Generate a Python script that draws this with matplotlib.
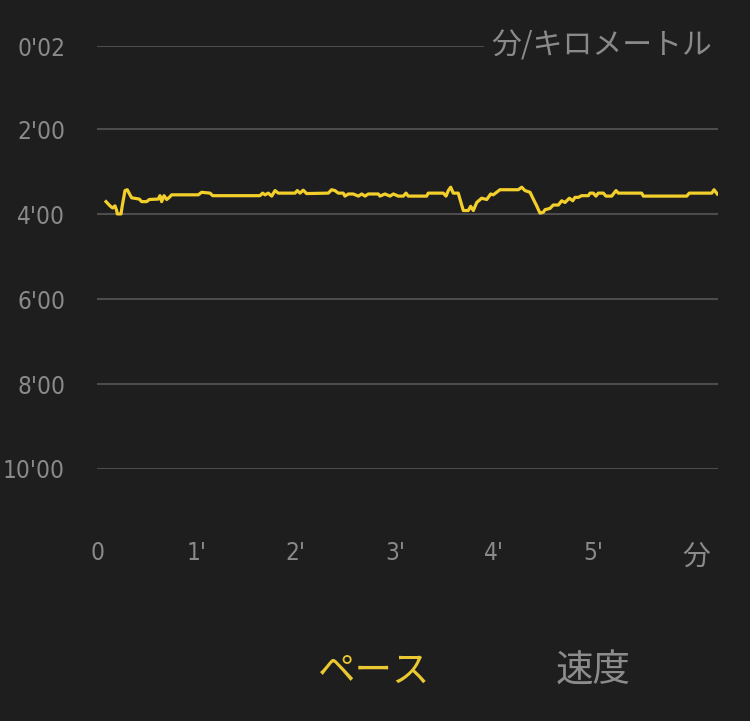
import matplotlib
matplotlib.use("Agg")
import matplotlib.pyplot as plt
from matplotlib import font_manager

# pace trace: elapsed time (min) vs pace (min/km)
elapsed_min = [
    0.091, 0.131, 0.158, 0.181, 0.198, 0.204, 0.242, 0.252, 0.282, 0.305,
    0.332, 0.349, 0.426, 0.450, 0.500, 0.527, 0.617, 0.634, 0.651, 0.675,
    0.702, 0.728, 0.752, 1.020, 1.054, 1.138, 1.165, 1.641, 1.668, 1.692,
    1.725, 1.759, 1.793, 1.826, 1.994, 2.017, 2.044, 2.077, 2.111, 2.329,
    2.363, 2.396, 2.430, 2.480, 2.497, 2.531, 2.581, 2.632, 2.666, 2.699,
    2.732, 2.833, 2.850, 2.900, 2.951, 2.984, 3.034, 3.085, 3.112, 3.135,
    3.320, 3.336, 3.487, 3.515, 3.538, 3.562, 3.588, 3.638, 3.689, 3.739,
    3.763, 3.790, 3.824, 3.874, 3.925, 3.965, 3.991, 4.058, 4.243, 4.277,
    4.310, 4.361, 4.394, 4.428, 4.461, 4.495, 4.512, 4.562, 4.595, 4.646,
    4.680, 4.713, 4.757, 4.791, 4.814, 4.847, 4.881, 4.948, 4.965, 4.998,
    5.025, 5.048, 5.099, 5.126, 5.183, 5.227, 5.250, 5.485, 5.502, 5.939,
    5.965, 6.191, 6.214, 6.247,
]
pace = [
    3.70, 3.80, 3.85, 3.80, 3.91, 3.99, 3.99, 3.83, 3.44, 3.42,
    3.54, 3.61, 3.64, 3.70, 3.70, 3.65, 3.64, 3.56, 3.70, 3.56,
    3.65, 3.60, 3.54, 3.54, 3.48, 3.50, 3.56, 3.56, 3.50, 3.54,
    3.50, 3.57, 3.44, 3.50, 3.50, 3.44, 3.50, 3.43, 3.51, 3.50,
    3.42, 3.44, 3.50, 3.50, 3.57, 3.52, 3.52, 3.57, 3.52, 3.57,
    3.52, 3.52, 3.57, 3.52, 3.57, 3.52, 3.57, 3.57, 3.50, 3.57,
    3.57, 3.50, 3.50, 3.57, 3.44, 3.36, 3.50, 3.50, 3.91, 3.91,
    3.81, 3.91, 3.72, 3.62, 3.65, 3.52, 3.54, 3.42, 3.42, 3.36,
    3.44, 3.48, 3.64, 3.80, 3.97, 3.95, 3.89, 3.86, 3.78, 3.78,
    3.68, 3.72, 3.62, 3.68, 3.60, 3.60, 3.56, 3.56, 3.50, 3.50,
    3.57, 3.50, 3.50, 3.57, 3.57, 3.44, 3.50, 3.50, 3.57, 3.57,
    3.50, 3.50, 3.42, 3.52,
]

y_ticks = [2 / 60, 2, 4, 6, 8, 10]
y_labels = ["0'02", "2'00", "4'00", "6'00", "8'00", "10'00"]
x_ticks = [0, 1, 2, 3, 4, 5, 6.04]
x_labels = ["0", "1'", "2'", "3'", "4'", "5'", "分"]
unit_label = "分/キロメートル"
tab_labels = ["ペース", "速度"]

BG = "#1e1e1e"
GRID = "#4c4c4c"
TXT = "#8a8a8a"
YELLOW = "#f2cf2a"
CJK = ["Noto Sans CJK JP", "DejaVu Sans"]


def condensed_font(size):
    """Narrow font for the digits if one is installed, else plain DejaVu"""
    narrow = None
    for f in font_manager.fontManager.ttflist:
        name = (f.fname + " " + f.name).lower()
        if ("narrow" in name or "condensed" in name) and "bold" not in name \
                and "italic" not in name and "oblique" not in name:
            narrow = f.fname
            if "dejavusanscondensed" in f.fname.lower().replace("-", ""):
                break
    if narrow:
        return font_manager.FontProperties(fname=narrow, size=size)
    return font_manager.FontProperties(family="DejaVu Sans", size=size * 0.85)


plt.rcParams["font.family"] = CJK
digits = condensed_font(17.5)

fig = plt.figure(figsize=(7.5, 7.21), dpi=100, facecolor=BG)
ax = fig.add_axes([97 / 750, 1 - 469 / 721, 621 / 750, 423 / 721])
ax.set_facecolor(BG)

ax.set_xlim(0, 6.254)
ax.set_ylim(10, 2 / 60)
for s in ax.spines.values():
    s.set_visible(False)

for v in y_ticks:
    ax.axhline(v, color=GRID, lw=1.5, zorder=1)

ax.plot(elapsed_min, pace, color=YELLOW, lw=2.3, zorder=3)

ax.set_yticks(y_ticks)
ax.set_yticklabels(y_labels, color=TXT)
ax.set_xticks(x_ticks)
ax.set_xticklabels(x_labels, color=TXT)
for lab in ax.get_yticklabels() + ax.get_xticklabels()[:-1]:
    lab.set_fontproperties(digits)
ax.get_xticklabels()[-1].set_fontsize(20)
ax.tick_params(axis="y", length=0, pad=23)
ax.tick_params(axis="x", length=0, pad=52)

# unit label sits on the top grid line, masking it
ax.text(0.990, 2 / 60, unit_label, transform=ax.get_yaxis_transform(),
        ha="right", va="center", fontsize=21.5, color=TXT, zorder=4,
        bbox=dict(facecolor=BG, edgecolor="none", pad=5))

fig.text(373.5 / 750, 1 - 671 / 721, tab_labels[0], ha="center", va="center",
         fontsize=27, color="#e9c832")
fig.text(593.5 / 750, 1 - 671 / 721, tab_labels[1], ha="center", va="center",
         fontsize=27, color="#8c8c8c")

fig.savefig("out.png", dpi=100, facecolor=BG)
